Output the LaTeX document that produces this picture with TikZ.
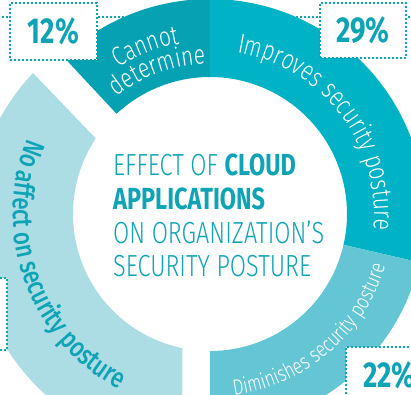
\documentclass[tikz,border=0pt]{standalone}
\usepackage{fontspec}
\setmainfont{Fira Sans Light}[FakeStretch=0.77, BoldFont={Fira Sans Bold}]
\newfontfamily\midfont{Fira Sans Medium}[FakeStretch=0.79]
\newfontfamily\pctfont{Fira Sans Bold}[FakeStretch=0.77]
\usetikzlibrary{calc, decorations.text}

\definecolor{cannotcol}{RGB}{6,162,180}
\definecolor{improvecol}{RGB}{0,178,197}
\definecolor{diminishcol}{RGB}{100,198,212}
\definecolor{noaffectcol}{RGB}{172,221,229}
\definecolor{tealtext}{RGB}{14,163,181}

\tikzset{
	pctbox/.style={draw=tealtext, fill=white, line width=2pt, dash pattern=on 2pt off 2pt, minimum width=87pt, minimum height=57pt, inner sep=0pt, text=tealtext, font=\pctfont\fontsize{36}{36}\selectfont},
	leader/.style={draw=tealtext, line width=2pt, dash pattern=on 2pt off 2pt},
	centre/.style={inner sep=0pt, text=tealtext, font=\fontsize{30.5}{34}\selectfont, anchor=base west},
	ringlabel/.style={decorate, decoration={text along path, text align=center, #1}}
}

\begin{document}
\begin{tikzpicture}[x=1pt, y=1pt]
	\useasboundingbox (0,0) rectangle (411,394);
	\clip (0,0) rectangle (411,394);
	\coordinate (ctr) at (210,180);

	% leaders, partly hidden by the ring and the boxes
	\coordinate (lead12l) at (-6,377);
	\coordinate (lead12r) at (140,377);
	\coordinate (lead29l) at (280,377);
	\coordinate (lead29r) at (418,377);
	\draw[leader] (lead12l) -- (lead12r);
	\draw[leader] (lead29l) -- (lead29r);

	% ring
	\fill[cannotcol] ($(ctr)+(90:137)$) arc[start angle=90, end angle=133, radius=137] -- ($(ctr)+(133:215)$) arc[start angle=133, end angle=90, radius=215] -- cycle;
	\fill[improvecol] ($(ctr)+(-13:137)$) arc[start angle=-13, end angle=90, radius=137] -- ($(ctr)+(90:215)$) arc[start angle=90, end angle=-13, radius=215] -- cycle;
	\fill[diminishcol] ($(ctr)+(-90:137)$) arc[start angle=-90, end angle=-13, radius=137] -- ($(ctr)+(-13:215)$) arc[start angle=-13, end angle=-90, radius=215] -- cycle;
	\fill[noaffectcol] ($(ctr)+(146.5:137)$) -- (33,321) arc[start angle=136.8, end angle=266, radius=226] -- ($(ctr)+(258.4:137)$) arc[start angle=258.4, end angle=146.5, radius=137] -- cycle;

	% labels on the ring
	\path[ringlabel={text color=white, text={|\fontsize{27}{27}\selectfont|Cannot}}] ($(ctr)+(161:173)$) arc[start angle=161, end angle=61, radius=173];
	\path[ringlabel={text color=white, text={|\fontsize{27}{27}\selectfont|determine}}] ($(ctr)+(160:150)$) arc[start angle=160, end angle=60, radius=150];
	\path[ringlabel={text color=white, text={|\fontsize{27.5}{27.5}\selectfont|Improves security posture}}] ($(ctr)+(97.5:164)$) arc[start angle=97.5, end angle=-22.5, radius=164];
	\path[ringlabel={text color=white, text={|\fontsize{22}{22}\selectfont|Diminishes security posture}}] ($(ctr)+(-99.5:183)$) arc[start angle=-99.5, end angle=0.5, radius=183];
	\path[ringlabel={text color=tealtext, text={|\midfont\fontsize{28}{28}\selectfont|No affect on security posture}}] ($(ctr)+(142:197)$) arc[start angle=142, end angle=258, radius=197];

	% percentages
	\node[pctbox] (box12) at (53.5,362.5) {12\%};
	\node[pctbox, minimum width=86pt, minimum height=55pt] (box29) at (363,363.5) {29\%};
	\node[pctbox] (box22) at (389.5,18.5) {22\%};
	\node[pctbox, minimum height=72pt] (box37) at (-36.5,80) {};

	% title
	\node[centre] (line1) at (113,219) {EFFECT OF \textbf{CLOUD}};
	\node[centre] (line2) at (113,185) {\textbf{APPLICATIONS}};
	\node[centre] (line3) at (113,151) {ON ORGANIZATION’S};
	\node[centre] (line4) at (113,118) {SECURITY POSTURE};
\end{tikzpicture}
\end{document}
